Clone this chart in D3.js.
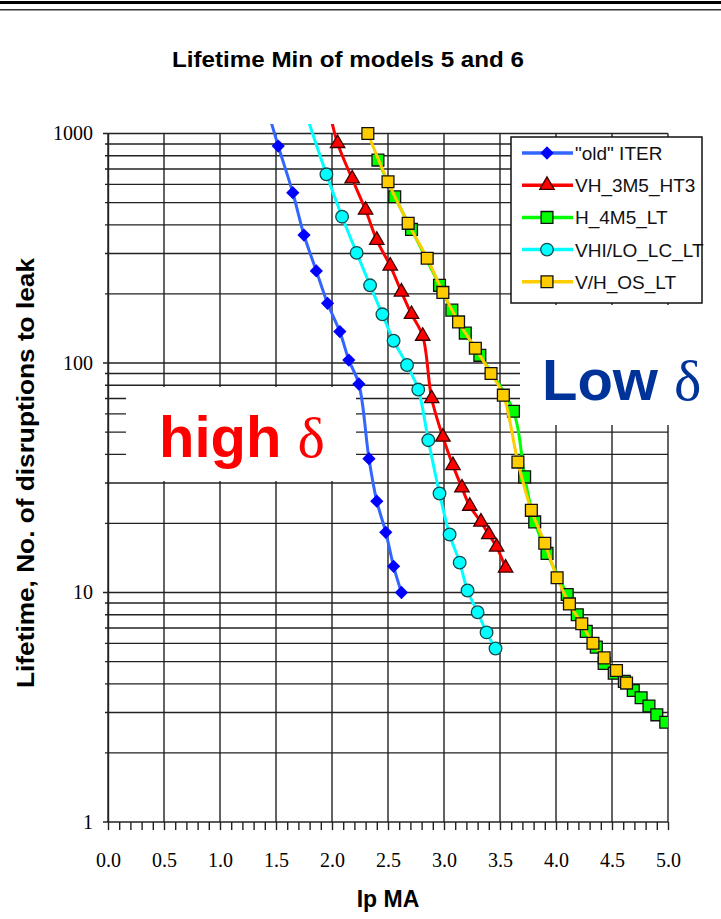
<!DOCTYPE html>
<html>
<head>
<meta charset="utf-8">
<script src="https://cdn.jsdelivr.net/npm/d3@7"></script>
<style>
  body { margin: 0; background: #fff; }
  svg { display: block; }
</style>
</head>
<body>
<div id="chart"></div>
<script>
// series data (Ip in MA, lifetime in disruptions)
const oldIterIp   = [1.40, 1.52, 1.65, 1.75, 1.86, 1.96, 2.07, 2.15, 2.24, 2.33, 2.40, 2.48, 2.55, 2.62];
const oldIterLife = [1400, 882, 552, 361, 252, 182, 137, 103, 81, 38.3, 25, 18.3, 13, 10];

const vh3m5Ip   = [1.97, 2.05, 2.18, 2.30, 2.40, 2.52, 2.62, 2.71, 2.81, 2.89, 2.99, 3.08, 3.16, 3.23, 3.33, 3.40, 3.47, 3.55];
const vh3m5Life = [1300, 906, 635, 464, 343, 265, 204, 163, 131, 70, 47.6, 35.8, 28.6, 23.8, 20.3, 17.9, 15.8, 12.8];

const h4m5Ip   = [2.41, 2.56, 2.71, 2.96, 3.07, 3.19, 3.32, 3.62, 3.72, 3.81, 3.92, 4.10, 4.19, 4.27, 4.36, 4.43, 4.52, 4.61, 4.69, 4.76, 4.83, 4.90, 4.98];
const h4m5Life = [766, 530, 382, 218, 170, 135, 108, 61.6, 31.9, 20.3, 14.8, 9.8, 8.0, 6.77, 5.78, 4.91, 4.45, 4.10, 3.74, 3.48, 3.20, 2.93, 2.72];

const vhiLoIp   = [1.75, 1.95, 2.09, 2.22, 2.34, 2.45, 2.55, 2.67, 2.77, 2.86, 2.96, 3.05, 3.14, 3.21, 3.30, 3.38, 3.46];
const vhiLoLife = [1300, 664, 434, 302, 218, 163, 125, 98, 76.6, 46.1, 27.0, 17.9, 13.5, 10.2, 8.2, 6.7, 5.7];

const vhOsIp   = [2.32, 2.50, 2.68, 2.85, 2.99, 3.13, 3.28, 3.42, 3.53, 3.66, 3.78, 3.90, 4.01, 4.12, 4.23, 4.33, 4.43, 4.54, 4.63];
const vhOsLife = [1000, 616, 406, 286, 203, 151, 116, 90, 72.4, 37, 22.8, 16.4, 11.6, 8.92, 7.31, 6.01, 5.19, 4.57, 4.03];

const seriesNames = ['"old" ITER', "VH_3M5_HT3", "H_4M5_LT", "VHI/LO_LC_LT", "V/H_OS_LT"];
const xTickLabels = [0, 0.5, 1, 1.5, 2, 2.5, 3, 3.5, 4, 4.5, 5];
const yTickLabels = [1, 10, 100, 1000];

const W = 721, H = 919;
const sans = "'Liberation Sans', Arial, sans-serif";
const serif = "'Liberation Serif', 'Times New Roman', serif";

const svg = d3.select("#chart").append("svg")
  .attr("width", W).attr("height", H);

// slide border at the top
svg.append("rect").attr("x", 0).attr("y", 1).attr("width", W).attr("height", 3).attr("fill", "#000");
svg.append("rect").attr("x", 0).attr("y", 9).attr("width", W).attr("height", 1.5).attr("fill", "#333");

const x = d3.scaleLinear().domain([0, 5]).range([108, 668]);
const y = d3.scaleLog().domain([1, 1000]).range([822, 133.5]);

// title
svg.append("text")
  .attr("x", 348).attr("y", 67)
  .attr("text-anchor", "middle")
  .style("font-family", sans).style("font-size", "22px").style("font-weight", "bold")
  .attr("textLength", 352).attr("lengthAdjust", "spacingAndGlyphs")
  .text("Lifetime Min of models 5 and 6");

// grid
const grid = svg.append("g").attr("stroke", "#222").attr("stroke-width", 1.4);
const yGridVals = [];
[1, 10, 100].forEach(dec => { for (let k = 1; k <= 9; k++) yGridVals.push(dec * k); });
yGridVals.push(1000);
grid.selectAll("line.h").data(yGridVals).enter().append("line")
  .attr("x1", d => (Math.log10(d) % 1 === 0 ? 103 : 105))
  .attr("x2", x(5))
  .attr("y1", d => y(d)).attr("y2", d => y(d));
grid.selectAll("line.v").data(xTickLabels).enter().append("line")
  .attr("x1", d => x(d)).attr("x2", d => x(d))
  .attr("y1", y(1000)).attr("y2", y(1));

// x axis, minor ticks
svg.append("g")
  .attr("transform", "translate(0," + y(1) + ")")
  .call(d3.axisBottom(x).tickValues(d3.range(0, 50.5, 1).map(d => d / 10)).tickSize(8).tickFormat(""))
  .call(g => g.select(".domain").remove())
  .call(g => g.selectAll("line").attr("stroke", "#222").attr("stroke-width", 1.4));

// x axis labels
svg.append("g")
  .attr("transform", "translate(0," + y(1) + ")")
  .call(d3.axisBottom(x).tickValues(xTickLabels).tickSize(0).tickPadding(31).tickFormat(d3.format(".1f")))
  .call(g => g.select(".domain").remove())
  .call(g => g.selectAll("text").attr("fill", "#000").style("font-family", serif).style("font-size", "20px"));

// y axis labels
svg.append("g")
  .attr("transform", "translate(" + x(0) + ",0)")
  .call(d3.axisLeft(y).tickValues(yTickLabels).tickSize(0).tickPadding(15).tickFormat(d3.format("d")))
  .call(g => g.select(".domain").attr("stroke", "#222").attr("stroke-width", 1.4))
  .call(g => g.selectAll("text").attr("fill", "#000").style("font-family", serif).style("font-size", "20px"));

// axis titles
svg.append("text")
  .attr("transform", "translate(34,473) rotate(-90)")
  .attr("text-anchor", "middle")
  .style("font-family", sans).style("font-size", "24px").style("font-weight", "bold")
  .attr("textLength", 430).attr("lengthAdjust", "spacingAndGlyphs")
  .text("Lifetime, No. of disruptions to leak");

svg.append("text")
  .attr("x", 388).attr("y", 907)
  .attr("text-anchor", "middle")
  .style("font-family", sans).style("font-size", "23px").style("font-weight", "bold")
  .text("Ip MA");

// text boxes on the plot
const highBox = svg.append("g");
highBox.append("rect").attr("x", 126).attr("y", 387).attr("width", 230).attr("height", 94).attr("fill", "#fff");
const highTxt = highBox.append("text").attr("x", 159).attr("y", 457)
  .style("font-size", "58px").attr("fill", "#ff0000");
highTxt.append("tspan").style("font-family", sans).style("font-weight", "bold").text("high ");
highTxt.append("tspan").style("font-family", serif).text("δ");

const lowBox = svg.append("g");
lowBox.append("rect").attr("x", 520).attr("y", 305).attr("width", 201).attr("height", 120).attr("fill", "#fff");
const lowTxt = lowBox.append("text").attr("x", 542).attr("y", 400)
  .style("font-size", "58px").attr("fill", "#003399");
lowTxt.append("tspan").style("font-family", sans).style("font-weight", "bold").text("Low ");
lowTxt.append("tspan").style("font-family", serif).text("δ");

// series
const seriesList = [
  { name: seriesNames[0], ip: oldIterIp, life: oldIterLife, line: "#3366ff", fill: "#0000ff", stroke: "none", shape: "diamond" },
  { name: seriesNames[1], ip: vh3m5Ip, life: vh3m5Life, line: "#ff0000", fill: "#ff0000", stroke: "#3a0000", shape: "triangle" },
  { name: seriesNames[2], ip: h4m5Ip, life: h4m5Life, line: "#00ff00", fill: "#00ff00", stroke: "#111", shape: "square" },
  { name: seriesNames[3], ip: vhiLoIp, life: vhiLoLife, line: "#00ffff", fill: "#00ffff", stroke: "#14494a", shape: "circle" },
  { name: seriesNames[4], ip: vhOsIp, life: vhOsLife, line: "#ffcc00", fill: "#ffcc00", stroke: "#111", shape: "square" }
];

const markerPath = shape => {
  if (shape === "diamond") return d3.symbol(d3.symbolSquare, 88)();
  if (shape === "triangle") return d3.symbol(d3.symbolTriangle, 90)();
  if (shape === "square") return d3.symbol(d3.symbolSquare, 140)();
  return d3.symbol(d3.symbolCircle, 125)();
};
const markerRot = shape => (shape === "diamond" ? " rotate(45)" : "");

svg.append("defs").append("clipPath").attr("id", "plotClip")
  .append("rect").attr("x", x(0)).attr("y", 124).attr("width", x(5) - x(0)).attr("height", y(1) - 124);

const plot = svg.append("g").attr("clip-path", "url(#plotClip)");
const line = d3.line().x(d => x(d[0])).y(d => y(d[1])).curve(d3.curveCatmullRom.alpha(0.5));

seriesList.forEach(s => {
  const pts = s.ip.map((v, i) => [v, s.life[i]]);
  const g = plot.append("g");
  g.append("path").datum(pts).attr("d", line)
    .attr("fill", "none").attr("stroke", s.line).attr("stroke-width", 3);
  g.selectAll("path.m").data(pts).enter().append("path")
    .attr("class", "m")
    .attr("d", markerPath(s.shape))
    .attr("transform", d => "translate(" + x(d[0]) + "," + y(d[1]) + ")" + markerRot(s.shape))
    .attr("fill", s.fill).attr("stroke", s.stroke).attr("stroke-width", 1.3);
});

// legend
const legend = svg.append("g");
legend.append("rect").attr("x", 511).attr("y", 137).attr("width", 191).attr("height", 166)
  .attr("fill", "#fff").attr("stroke", "#111").attr("stroke-width", 1.5);
const items = legend.selectAll("g.item").data(seriesList).enter().append("g")
  .attr("transform", (d, i) => "translate(0," + (153 + i * 32.2) + ")");
items.append("line").attr("x1", 522).attr("x2", 573).attr("y1", 0).attr("y2", 0)
  .attr("stroke", d => d.line).attr("stroke-width", 3.5);
items.append("path").attr("d", d => markerPath(d.shape))
  .attr("transform", d => "translate(547,0)" + markerRot(d.shape))
  .attr("fill", d => d.fill).attr("stroke", d => d.stroke).attr("stroke-width", 1.3);
items.append("text").attr("x", 575).attr("y", 7)
  .style("font-family", sans).style("font-size", "19px").attr("fill", "#111")
  .text(d => d.name);
</script>
</body>
</html>
